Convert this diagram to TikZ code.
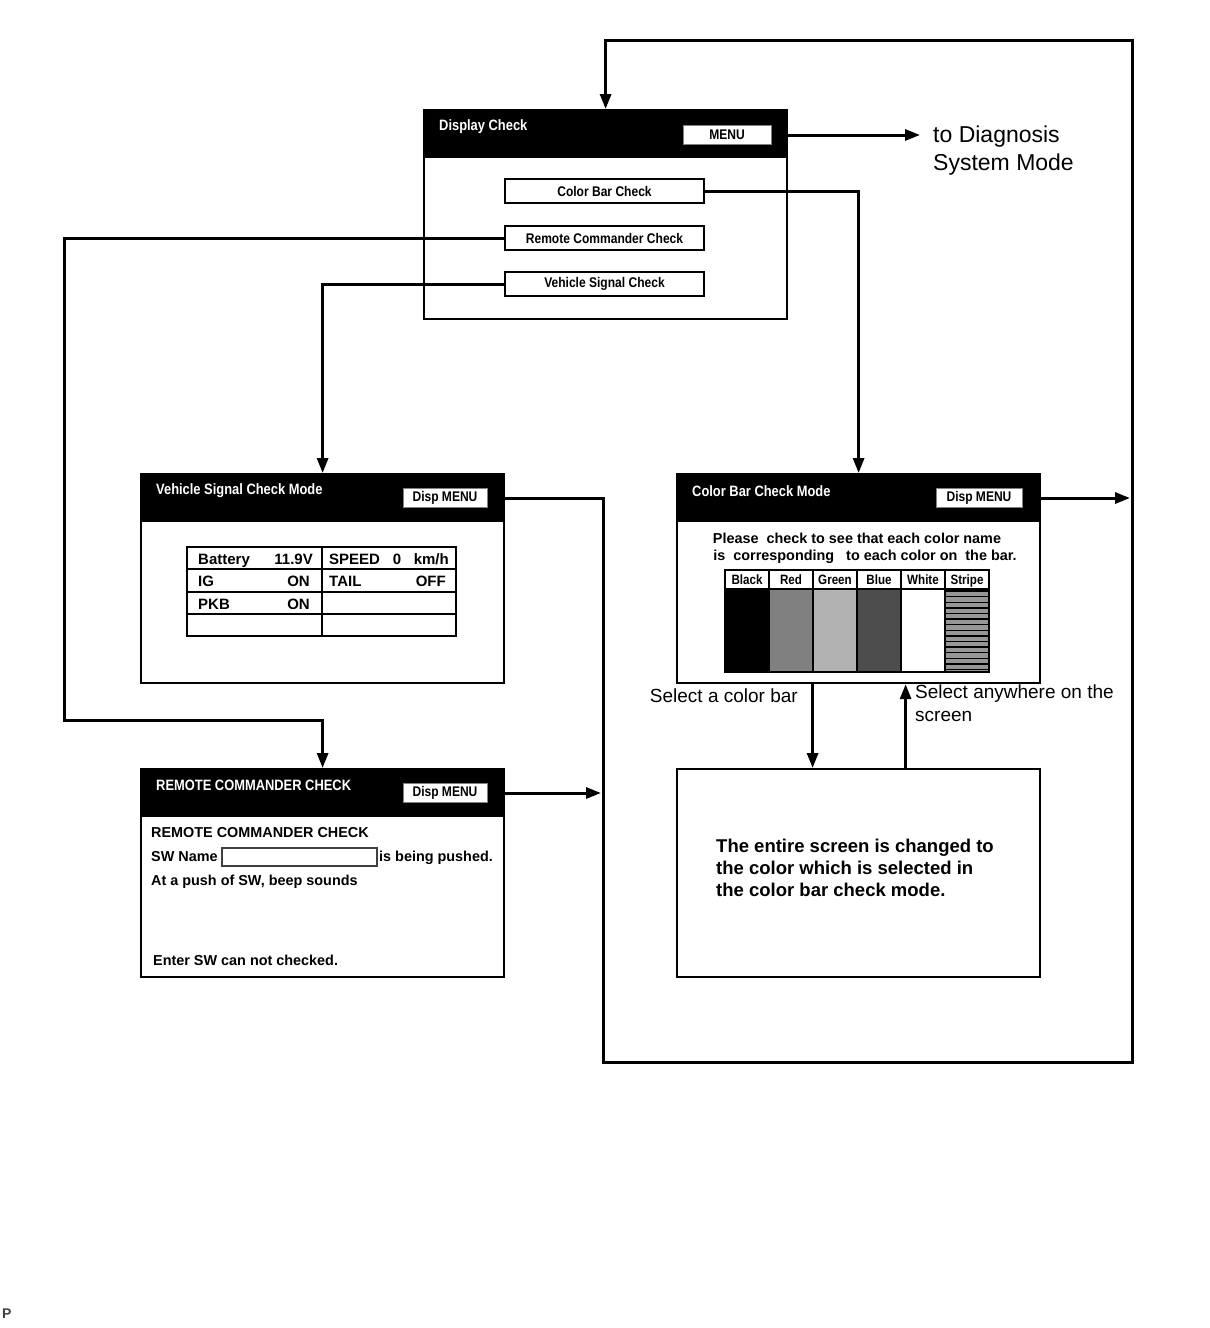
\documentclass[tikz,border=0pt]{standalone}
\usepackage{fontspec}
\setmainfont{Liberation Sans}
\newfontfamily\condfont[FakeStretch=0.86]{Liberation Sans}
\usetikzlibrary{arrows.meta}
\definecolor{redbar}{RGB}{128,128,128}
\definecolor{greenbar}{RGB}{178,178,178}
\definecolor{bluebar}{RGB}{77,77,77}
\definecolor{stripebar}{RGB}{150,150,150}

\begin{document}
\begin{tikzpicture}[x=1pt, y=-1pt,
  screen/.style={draw, line width=2.2pt, fill=white, inner sep=0pt, anchor=north west, minimum width=363, minimum height=209},
  head/.style={fill=black, inner sep=0pt, anchor=north west, minimum width=363, minimum height=49},
  headtext/.style={text=white, font=\condfont\bfseries\fontsize{15}{17}\selectfont, anchor=west, inner sep=0pt},
  menubtn/.style={draw=gray, fill=white, line width=1pt, inner sep=0pt, minimum height=19, font=\condfont\bfseries\fontsize{14}{16}\selectfont},
  btn/.style={draw, line width=1.5pt, fill=white, inner sep=0pt, minimum width=199, minimum height=24, font=\condfont\bfseries\fontsize{14}{16}\selectfont},
  link/.style={line width=3pt, -{Triangle[length=15pt, width=11pt]}},
  note/.style={font=\fontsize{19}{23}\selectfont, align=left, inner sep=0pt},
  body/.style={font=\bfseries\fontsize{14.4}{16}\selectfont, inner sep=0pt, anchor=base west},
  cell/.style={font=\bfseries\fontsize{15}{17}\selectfont, inner sep=0pt}
]
\useasboundingbox (0,0) rectangle (1210,1328);

% display check screen
\node[screen] (dc) at (423,109) {};
\node[head] (dch) at (423,109) {};
\node[headtext] (dctitle) at (439,127) {Display Check};
\node[menubtn, minimum width=88] (dcmenu) at (727,135) {MENU};
\node[btn] (cbc) at (604.5,191) {Color Bar Check};
\node[btn] (rcc) at (604.5,238) {Remote Commander Check};
\node[btn] (vsc) at (604.5,284) {Vehicle Signal Check};
\node[note, font=\fontsize{23}{28}\selectfont, anchor=north west] (diag) at (933,126) {to Diagnosis\\System Mode};

% vehicle signal check mode
\node[screen] (vsm) at (140,473) {};
\node[head] (vsmh) at (140,473) {};
\node[headtext] (vsmtitle) at (156,491) {Vehicle Signal Check Mode};
\node[menubtn, minimum width=84] (vsmenu) at (445,498) {Disp MENU};
\draw[line width=1.5pt] (187,547) rectangle (456,636);
\foreach \y in {569,592,614}
  \draw[line width=1.5pt] (187,\y) -- (456,\y);
\draw[line width=1.5pt] (322,547) -- (322,636);
\node[cell, anchor=base west] (bat) at (198,564) {Battery};
\node[cell, anchor=base east] (batv) at (313,564) {11.9V};
\node[cell, anchor=base west] (spd) at (329,564) {SPEED};
\node[cell, anchor=base] (spdv) at (397,564) {0};
\node[cell, anchor=base east] (spdu) at (449,564) {km/h};
\node[cell, anchor=base west] (ig) at (198,586) {IG};
\node[cell, anchor=base east] (igv) at (310,586) {ON};
\node[cell, anchor=base west] (tail) at (329,586) {TAIL};
\node[cell, anchor=base east] (tailv) at (446,586) {OFF};
\node[cell, anchor=base west] (pkb) at (198,609) {PKB};
\node[cell, anchor=base east] (pkbv) at (310,609) {ON};

% color bar check mode
\node[screen] (cbm) at (676,473) {};
\node[head] (cbmh) at (676,473) {};
\node[headtext] (cbmtitle) at (692,491) {Color Bar Check Mode};
\node[menubtn, minimum width=86] (cbmenu) at (979,498) {Disp MENU};
\node[cell, font=\bfseries\fontsize{14.4}{16}\selectfont] (please) at (857,538) {Please \ check to see that each color name};
\node[cell, font=\bfseries\fontsize{14.4}{16}\selectfont] (corr) at (865,557) {is \ corresponding \ \ to each color on \ the bar.};
\foreach \n/\c [count=\i from 0] in {Black/black, Red/redbar, Green/greenbar, Blue/bluebar, White/white, Stripe/stripebar}{
  \draw[line width=1.5pt, fill=white] (725+44*\i,570) rectangle (769+44*\i,589);
  \node[font=\condfont\bfseries\fontsize{13.5}{15}\selectfont, inner sep=0pt, anchor=base] (bar\n) at (747+44*\i,584.5) {\n};
  \draw[line width=1.5pt, fill=\c] (725+44*\i,589) rectangle (769+44*\i,672);
}
\foreach \k in {0,...,14}
  \draw[line width=1.4pt] (945,591+5.6*\k) -- (989,591+5.6*\k);
\draw[line width=2pt] (725,570) rectangle (989,672);

% full screen colour
\node[screen, minimum height=208] (full) at (676,768) {};
\node[font=\bfseries\fontsize{18.5}{22}\selectfont, align=left, anchor=north west, inner sep=0pt] (fulltext) at (716,839) {The entire screen is changed to\\the color which is selected in\\the color bar check mode.};
\node[note, anchor=east] (selbar) at (798,696) {Select a color bar};
\node[note, anchor=north west] (selany) at (915,685) {Select anywhere on the\\screen};

% remote commander check
\node[screen, minimum height=208] (rcm) at (140,768) {};
\node[head] (rcmh) at (140,768) {};
\node[headtext] (rcmtitle) at (156,785) {REMOTE COMMANDER CHECK};
\node[menubtn, minimum width=84] (rcmenu) at (445,793) {Disp MENU};
\node[body] (rcline) at (151,837) {REMOTE COMMANDER CHECK};
\node[body] (swname) at (151,861) {SW Name};
\node[draw=darkgray, line width=1.5pt, anchor=north west, minimum width=155, minimum height=18, inner sep=0pt] (swbox) at (221,847) {};
\node[body] (pushed) at (379,861) {is being pushed.};
\node[body] (beep) at (151,885) {At a push of SW, beep sounds};
\node[body] (enter) at (153,965) {Enter SW can not checked.};

\node[font=\bfseries\fontsize{14}{16}\selectfont, text=darkgray, anchor=west, inner sep=0pt] (pmark) at (2,1314) {P};

% connectors
\draw[link] (dcmenu.east) -- (920,135);
\draw[link] (cbc.east) -| (cbm.north);
\draw[link] (rcc.west) -| (64,720) -| (rcm.north);
\draw[link] (vsc.west) -| (vsm.north);
\draw[link] (vsmenu.east) -| (603,1062) -| (1132,40) -| (dc.north);
\draw[link] (cbmenu.east) -- (1130,498);
\draw[link] (rcmenu.east) -- (601,793);
\draw[link] ([xshift=-46]cbm.south) -- ([xshift=-46]full.north);
\draw[link] ([xshift=47]full.north) -- ([xshift=47]cbm.south);
\end{tikzpicture}
\end{document}
